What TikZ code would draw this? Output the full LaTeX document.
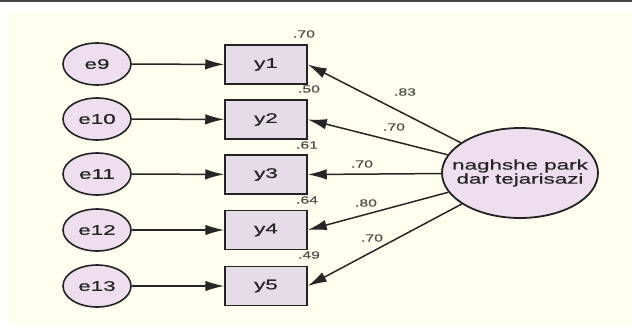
\documentclass[tikz,border=0pt]{standalone}
\usepackage{fontspec}
\setmainfont{Liberation Sans}[FakeStretch=1.6,FakeBold=0.6]
\newfontfamily\coeffont{Liberation Sans}[FakeStretch=1.5,FakeBold=0.3]
\usetikzlibrary{arrows.meta,shapes.geometric}
\definecolor{cream}{RGB}{255,255,240}
\definecolor{boxfill}{RGB}{230,220,232}
\definecolor{ellfill}{RGB}{238,222,238}
\definecolor{edge}{RGB}{35,35,35}
\definecolor{topbar}{RGB}{70,70,70}
\tikzset{
  errnode/.style={ellipse,draw=edge,line width=1.6pt,fill=ellfill,minimum width=68pt,minimum height=42pt,inner sep=0pt,font=\fontsize{14}{15}\selectfont,text=black!85},
  obsnode/.style={rectangle,draw=edge,line width=1.5pt,fill=boxfill,minimum width=82pt,minimum height=39pt,inner sep=0pt,font=\fontsize{14}{15}\selectfont,text=black!85},
  latnode/.style={ellipse,draw=edge,line width=1.8pt,fill=ellfill,minimum width=156pt,minimum height=90pt,inner sep=0pt},
  lattext/.style={align=center,inner sep=0pt,font=\fontsize{14}{15}\selectfont,text=black!85},
  coef/.style={font=\coeffont\fontsize{10.5}{12}\selectfont,text=black!70,inner sep=0pt},
  path/.style={draw=black!85,line width=1.5pt,-{Latex[length=19pt,width=10.5pt]}}
}
\begin{document}
\begin{tikzpicture}[x=1pt,y=-1pt]
\useasboundingbox (0,0) rectangle (632,327);
\fill[white] (0,0) rectangle (632,327);
\fill[topbar] (0,0) rectangle (632,1.8);
\fill[cream] (8,12) rectangle (632,325);
% error terms
\node[errnode] (e9)  at (97,64)  {e9};
\node[errnode] (e10) at (97,119) {e10};
\node[errnode] (e11) at (97,174) {e11};
\node[errnode] (e12) at (97,230) {e12};
\node[errnode] (e13) at (97,286) {e13};
% observed
\node[obsnode] (y1) at (266,64.5) {y1};
\node[obsnode] (y2) at (266,119.5) {y2};
\node[obsnode] (y3) at (266,174.5) {y3};
\node[obsnode] (y4) at (266,230) {y4};
\node[obsnode] (y5) at (266,286) {y5};
% latent
\node[latnode] (lat) at (520,173) {};
\node[lattext] (lattxt) at (lat) {naghshe park\\[-1pt]dar tejarisazi};
% error paths
\foreach \i/\j in {e9/y1,e10/y2,e11/y3,e12/y4,e13/y5}
  \draw[path] (\i) -- (\j);
% loadings
\foreach \j in {y1,y2,y3,y4,y5}
  \draw[path] (lat) -- (\j.east);
% R squared
\node[coef] (r1) at (304,34) {.70};
\node[coef] (r2) at (309,89) {.50};
\node[coef] (r3) at (307,145) {.61};
\node[coef] (r4) at (307,200) {.64};
\node[coef] (r5) at (309,255) {.49};
% loading labels
\node[coef] (l1) at (405,92) {.83};
\node[coef] (l2) at (394,127) {.70};
\node[coef] (l3) at (362,164) {.70};
\node[coef] (l4) at (366,203) {.80};
\node[coef] (l5) at (372,238) {.70};
\end{tikzpicture}
\end{document}
